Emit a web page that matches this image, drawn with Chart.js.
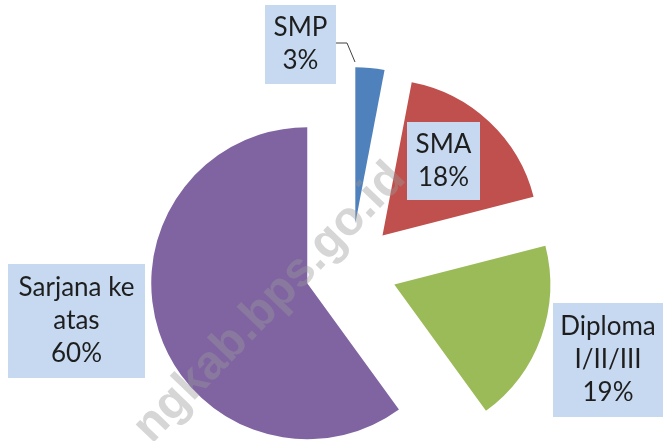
<!DOCTYPE html>
<html>
<head>
<meta charset="utf-8">
<script src="https://cdn.jsdelivr.net/npm/chart.js@4.4.1/dist/chart.umd.min.js"></script>
<style>
  html, body { margin: 0; padding: 0; background: #fff; }
  #wrap { width: 663px; height: 441px; }
</style>
</head>
<body>
<div id="wrap"><canvas id="pieChart" width="663" height="441"></canvas></div>
<script>
const categories = ['SMP', 'SMA', 'Diploma I/II/III', 'Sarjana ke atas'];
const nameLines = [['SMP'], ['SMA'], ['Diploma', 'I/II/III'], ['Sarjana ke', 'atas']];
const shares = [3, 18, 19, 60];
const sliceColors = ['#4f81bd', '#c0504d', '#9bbb59', '#8064a2'];

// every slice is pulled out from the centre by the same distance
const EXPLODE = 46;
const baseArcDraw = Chart.ArcElement.prototype.draw;
Chart.ArcElement.prototype.draw = function (ctx) {
    const mid = (this.startAngle + this.endAngle) / 2;
    ctx.save();
    ctx.translate(Math.cos(mid) * EXPLODE, Math.sin(mid) * EXPLODE);
    baseArcDraw.call(this, ctx);
    ctx.restore();
};

// label boxes (left, top, width, height) in the order of the categories
const labelBoxes = [
    { x: 265, y: 5, w: 71, h: 79, leader: [[336, 43], [347, 43], [355, 62]] },
    { x: 407, y: 122, w: 73, h: 78 },
    { x: 553, y: 303, w: 110, h: 114 },
    { x: 8, y: 264, w: 137, h: 114 }
];

const labelPlugin = {
    id: 'boxLabels',
    afterDatasetsDraw(chart) {
        const { ctx } = chart;

        // watermark
        ctx.save();
        ctx.translate(270, 303);
        ctx.rotate(-46 * Math.PI / 180);
        ctx.font = 'bold 48px "Liberation Sans", Arial, sans-serif';
        ctx.fillStyle = 'rgba(153, 153, 153, 0.4)';
        ctx.textAlign = 'center';
        ctx.textBaseline = 'middle';
        ctx.fillText('ngkab.bps.go.id', 0, 0);
        ctx.restore();

        const lineHeight = 33;
        categories.forEach((name, i) => {
            const box = labelBoxes[i];
            const lines = nameLines[i].concat([`${shares[i]}%`]);
            ctx.save();
            if (box.leader) {
                ctx.strokeStyle = '#404040';
                ctx.lineWidth = 1;
                ctx.beginPath();
                box.leader.forEach(([px, py], k) => (k ? ctx.lineTo(px, py) : ctx.moveTo(px, py)));
                ctx.stroke();
            }
            ctx.fillStyle = '#c6d9f1';
            ctx.fillRect(box.x, box.y, box.w, box.h);
            ctx.fillStyle = '#1e1e1e';
            ctx.font = '26px Lato, "Open Sans", sans-serif';
            ctx.textAlign = 'center';
            ctx.textBaseline = 'middle';
            const cx = box.x + box.w / 2;
            const top = box.y + box.h / 2 - (lines.length - 1) * lineHeight / 2;
            lines.forEach((line, k) => ctx.fillText(line, cx, top + k * lineHeight));
            ctx.restore();
        });
    }
};

new Chart(document.getElementById('pieChart'), {
    type: 'pie',
    data: {
        labels: categories,
        datasets: [
            {
                data: shares,
                backgroundColor: sliceColors,
                borderWidth: 0
            }
        ]
    },
    options: {
        responsive: false,
        animation: false,
        radius: 156,
        layout: {
            padding: { left: 39, top: 97, right: 0, bottom: 0 }
        },
        plugins: {
            legend: { display: false },
            tooltip: { enabled: false }
        }
    },
    plugins: [labelPlugin]
});
</script>
</body>
</html>
